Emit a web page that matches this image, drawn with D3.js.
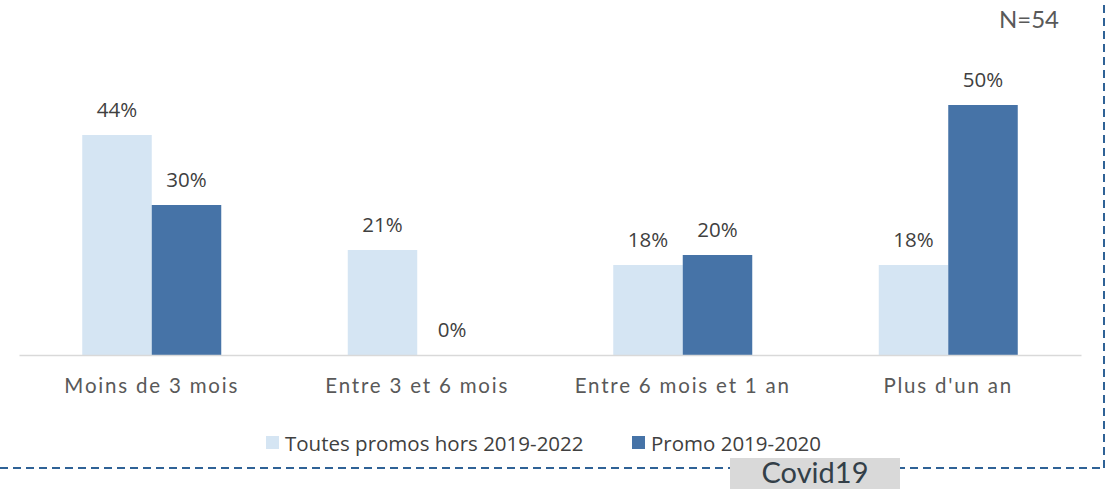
<!DOCTYPE html>
<html>
<head>
<meta charset="utf-8">
<script src="https://cdn.jsdelivr.net/npm/d3@7"></script>
<style>
  body { margin: 0; background: #fff; }
</style>
</head>
<body>
<div id="chart"></div>
<script>
// chart data
const categories = ["Moins de 3 mois", "Entre 3 et 6 mois", "Entre 6 mois et 1 an", "Plus d'un an"];
const seriesNames = ["Toutes promos hors 2019-2022", "Promo 2019-2020"];
const seriesAll = [44, 21, 18, 18];
const seriesPromo = [30, 0, 20, 50];
const seriesColors = ["#D5E5F3", "#4673A7"];

const width = 1110, height = 489;
const svg = d3.select("#chart").append("svg")
  .attr("width", width)
  .attr("height", height);

// x scales
const x = d3.scaleBand().domain(categories).range([19, 1081]);
const xInner = d3.scaleBand().domain([0, 1]).range([-69.5, 69.5]);
// y scale: 5px per percent
const y = d3.scaleLinear().domain([0, 50]).range([355, 105]);

const rows = categories.map((c, i) => ({ cat: c, vals: [seriesAll[i], seriesPromo[i]] }));

const groups = svg.selectAll("g.grp")
  .data(rows)
  .enter().append("g")
  .attr("class", "grp")
  .attr("transform", d => `translate(${x(d.cat) + x.bandwidth() / 2},0)`);

groups.selectAll("rect")
  .data(d => d.vals)
  .enter().append("rect")
  .attr("x", (v, i) => xInner(i))
  .attr("width", xInner.bandwidth())
  .attr("y", v => y(v))
  .attr("height", v => y(0) - y(v))
  .attr("fill", (v, i) => seriesColors[i]);

// value labels
groups.selectAll("text.val")
  .data(d => d.vals)
  .enter().append("text")
  .attr("class", "val")
  .attr("x", (v, i) => xInner(i) + xInner.bandwidth() / 2)
  .attr("y", v => y(v) - 18)
  .attr("text-anchor", "middle")
  .attr("font-family", "'Open Sans', sans-serif")
  .attr("font-size", 20.5)
  .attr("fill", "#404040")
  .text(v => v + "%");

// x axis
const xAxis = d3.axisBottom(x).tickSize(0).tickPadding(23);
const ax = svg.append("g")
  .attr("transform", `translate(0,${y(0)})`)
  .call(xAxis);
ax.select(".domain").attr("stroke", "#D9D9D9").attr("stroke-width", 1.5);
ax.selectAll("text")
  .attr("font-family", "Lato, sans-serif")
  .attr("font-size", 20.5)
  .attr("letter-spacing", 1.8)
  .attr("fill", "#595959");

// N label
svg.append("text")
  .attr("x", 1059)
  .attr("y", 28)
  .attr("text-anchor", "end")
  .attr("font-family", "Lato, sans-serif")
  .attr("font-size", 24)
  .attr("fill", "#595959")
  .text("N=54");

// dashed frame (bottom and right)
const frame = svg.append("g")
  .attr("fill", "none")
  .attr("stroke", "#2F6296")
  .attr("stroke-width", 2)
  .attr("stroke-dasharray", "8,5");
frame.append("line").attr("x1", 0).attr("x2", 1104).attr("y1", 468).attr("y2", 468);
frame.append("line").attr("x1", 1104).attr("x2", 1104).attr("y1", 468).attr("y2", 0);

// legend
const legendX = [266, 632];
const legend = svg.selectAll("g.leg")
  .data(seriesNames)
  .enter().append("g")
  .attr("class", "leg")
  .attr("transform", (d, i) => `translate(${legendX[i]},436)`);
legend.append("rect")
  .attr("width", 13)
  .attr("height", 13)
  .attr("fill", (d, i) => seriesColors[i]);
legend.append("text")
  .attr("x", 19)
  .attr("y", 15)
  .attr("font-family", "'Open Sans', sans-serif")
  .attr("font-size", 20.5)
  .attr("fill", "#404040")
  .text(d => d);

// Covid19 tag
svg.append("rect")
  .attr("x", 730)
  .attr("y", 458)
  .attr("width", 170)
  .attr("height", 31)
  .attr("fill", "#D9D9D9");
svg.append("text")
  .attr("x", 815)
  .attr("y", 482.5)
  .attr("text-anchor", "middle")
  .attr("font-family", "Lato, sans-serif")
  .attr("font-size", 29)
  .attr("fill", "#333F48")
  .text("Covid19");
</script>
</body>
</html>
